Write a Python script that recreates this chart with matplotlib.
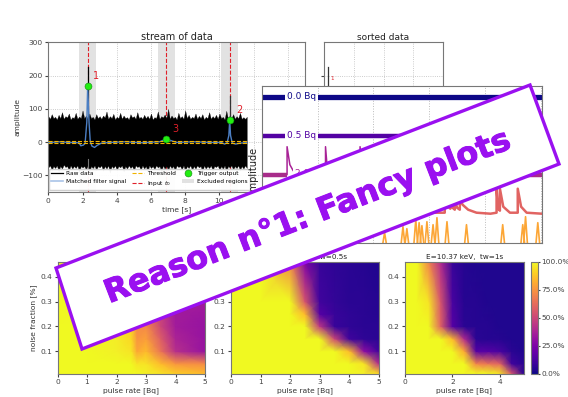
import numpy as np
import matplotlib
matplotlib.use('Agg')
import matplotlib.pyplot as plt
import matplotlib.patheffects as pe
from matplotlib.patches import Polygon

W, H = 568, 397

# stream of data
env_t = np.arange(0, 11.65, 0.1)
env_top = [78, 70, 84, 72, 76, 68, 82, 72, 90, 70, 78, 74, 86, 68, 75, 72, 88, 70, 77, 72,
           95, 72, 80, 70, 86, 72, 76, 68, 84, 72, 78, 70, 80, 74, 92, 70, 78, 72, 85, 68,
           76, 72, 88, 70, 80, 72, 75, 68, 84, 74, 78, 70, 90, 72, 76, 70, 82, 72, 79, 70,
           86, 68, 75, 72, 92, 70, 78, 74, 83, 72, 100, 70, 80, 72, 76, 68, 88, 72, 78, 70,
           95, 72, 82, 70, 76, 72, 86, 70, 79, 72, 84, 68, 76, 72, 90, 70, 78, 72, 82, 70,
           86, 72, 76, 68, 94, 70, 80, 72, 84, 70, 78, 72, 88, 70, 75, 70, 76]
env_bot = [-76, -70, -84, -72, -78, -70, -88, -72, -80, -68, -75, -72, -86, -70, -80, -72, -78, -70, -90, -72,
           -76, -72, -82, -70, -88, -72, -78, -70, -84, -72, -76, -70, -86, -72, -80, -70, -92, -72, -78, -70,
           -84, -72, -76, -70, -88, -72, -80, -70, -78, -72, -86, -70, -75, -72, -84, -70, -80, -72, -90, -70,
           -78, -72, -82, -70, -76, -72, -88, -70, -80, -72, -84, -70, -78, -72, -86, -70, -75, -72, -82, -70,
           -88, -72, -78, -70, -84, -72, -80, -70, -76, -72, -90, -70, -80, -72, -78, -70, -86, -72, -75, -70,
           -84, -72, -80, -70, -88, -72, -76, -70, -82, -72, -78, -70, -85, -72, -80, -70, -78]
raw_spike_t = [2.3, 2.3, 10.6, 10.6]
raw_spike_y = [60, 225, 60, 138]
filt_t = [0, 0.6, 1.2, 1.8, 1.9, 2.05, 2.15, 2.25, 2.3, 2.38, 2.45, 2.55, 2.7, 2.85, 3.1, 3.6, 4.5, 5.5, 6.5, 6.9, 7.5,
          8.5, 9.5, 10.1, 10.3, 10.45, 10.55, 10.6, 10.65, 10.75, 10.95, 11.2, 11.6]
filt_y = [-2, 1, -1, -2, -11, -9, -4, 60, 170, 60, 2, -12, -16, -10, -3, -1, 1, -2, 1, 9, -1,
          1, -1, -1, -6, -2, 20, 66, 20, -3, -6, -3, -2]
thresh = 4
input_t = [2.3, 6.9, 10.6]
trig_t = [2.3, 6.9, 10.6]
trig_y = [170, 10, 67]
trig_lab = ['1', '3', '2']
lab_t = [2.77, 7.4, 11.15]
lab_y = [200, 39, 96]
excl = [(1.8, 2.8), (6.4, 7.4), (10.1, 11.1)]

# sorted data
sorted_x = [0.6, 0.6]
sorted_y = [60, 225]

# traces, offset by rate
trace_names = ['0.0 Bq', '0.5 Bq', '2.0 Bq']
trace_lab_x = [0.71, 0.71, 0.85]
trace_lab_y = [146, 107, 69]
navy_y = 146
indigo_y = 107
mag_x = [0, 0.45, 0.45, 0.5, 0.56, 0.65, 0.8, 1.14, 1.14, 1.18, 1.76, 1.76, 1.8, 2.5, 4.9, 4.9, 4.93, 5.02]
mag_y = [68, 68, 96, 78, 72, 69, 68, 68, 96, 68, 68, 96, 68, 68, 68, 76, 70, 68]
sal_x = [3.1, 3.28, 3.28, 3.34, 3.38, 3.38, 3.42, 3.46, 3.46, 3.5, 3.55, 3.55, 3.6, 3.7, 3.85, 4.1, 4.21, 4.21, 4.24,
         4.27, 4.27, 4.33, 4.45, 4.59, 4.59, 4.65, 4.75, 5.02]
sal_y = [30, 30, 47, 36, 34, 44, 35, 33, 44, 35, 33, 44, 38, 33, 30, 29, 30, 54, 34, 32, 54, 36, 30, 30, 54, 36, 30, 29]
orange_x = [2.2, 2.53, 2.6, 2.76, 2.82, 2.87, 2.96, 3.07, 3.14, 3.32, 3.67, 4.32, 4.68, 4.73, 4.95]
orange_h = [10, 16, 14, 23, 20, 17, 21, 18, 25, 21, 18, 18, 18, 26, 20]

# efficiency maps, rows from low to high noise fraction
noise_1 = [0.01, 0.05, 0.1, 0.15, 0.2, 0.3, 0.46]
rate_1 = [0, 1, 2, 2.5, 2.7, 3, 3.5, 4, 5]
eff_1 = [[100, 100, 100, 100, 100, 98, 95, 90, 85],
         [100, 100, 100, 100, 95, 95, 85, 75, 72],
         [100, 100, 98, 95, 80, 85, 65, 42, 32],
         [100, 100, 97, 92, 75, 78, 58, 38, 32],
         [100, 100, 95, 90, 72, 72, 50, 35, 32],
         [100, 98, 90, 80, 65, 62, 45, 35, 35],
         [100, 95, 85, 70, 60, 55, 45, 38, 38]]
noise_2 = [0.01, 0.05, 0.1, 0.15, 0.2, 0.25, 0.3, 0.46]
rate_2 = [0, 1, 2, 2.5, 3, 3.5, 4, 4.5, 5]
eff_2 = [[100, 100, 100, 100, 100, 100, 100, 98, 92],
         [100, 100, 100, 100, 100, 100, 100, 95, 40],
         [100, 100, 100, 100, 100, 100, 85, 30, 10],
         [100, 100, 100, 100, 100, 50, 10, 6, 5],
         [100, 100, 100, 100, 45, 8, 6, 5, 5],
         [100, 100, 100, 85, 15, 8, 6, 5, 4],
         [100, 100, 100, 55, 10, 7, 5, 5, 4],
         [100, 100, 70, 25, 8, 6, 5, 4, 3]]
noise_3 = [0.01, 0.05, 0.1, 0.15, 0.2, 0.3, 0.46]
rate_3 = [0, 0.5, 1, 1.5, 2, 2.5, 3, 3.5, 4, 4.5, 5]
eff_3 = [[100, 100, 100, 100, 100, 100, 100, 100, 95, 55, 5],
         [100, 100, 100, 100, 100, 100, 70, 65, 60, 10, 5],
         [100, 100, 100, 100, 100, 80, 15, 15, 12, 5, 3],
         [100, 100, 100, 100, 85, 40, 5, 4, 4, 3, 3],
         [100, 100, 100, 60, 15, 5, 4, 4, 3, 3, 3],
         [100, 100, 95, 55, 12, 4, 4, 3, 3, 3, 3],
         [100, 100, 70, 40, 8, 4, 3, 3, 3, 3, 3]]
cbar_ticks = [0, 25, 50, 75, 100]

plt.rcParams['font.size'] = 5.4
plt.rcParams['axes.edgecolor'] = '#777777'
plt.rcParams['xtick.color'] = '#444444'
plt.rcParams['ytick.color'] = '#444444'
plt.rcParams['axes.labelcolor'] = '#333333'
plt.rcParams['axes.titlecolor'] = '#222222'
plt.rcParams['xtick.major.size'] = 2
plt.rcParams['ytick.major.size'] = 2
plt.rcParams['xtick.major.pad'] = 2
plt.rcParams['ytick.major.pad'] = 2

fig = plt.figure(figsize=(W / 100, H / 100), dpi=100)


# axes from pixel edges, y counted from the top of the image
def px_axes(left, top, right, bottom, z=1):
    return fig.add_axes([left / W, 1 - bottom / H, (right - left) / W, (bottom - top) / H], zorder=z)


def dotted_grid(ax):
    ax.grid(True, ls=':', lw=0.6, color='#bbbbbb')
    ax.set_axisbelow(True)


# top left panel
ax = px_axes(48.3, 42.3, 305, 192)
for i, (a, b) in enumerate(excl):
    ax.axvspan(a, b, color='#e2e2e2', lw=0, label='Excluded regions' if i == 0 else None, zorder=1)
ax.fill_between(env_t, env_bot, env_top, color='black', lw=0.2, zorder=2)
ax.plot(raw_spike_t[:2], raw_spike_y[:2], color='black', lw=0.9, label='Raw data', zorder=2)
ax.plot(raw_spike_t[2:], raw_spike_y[2:], color='#333333', lw=0.9, zorder=2)
ax.plot([2.3, 2.3], [-50, -85], color='#777777', lw=0.8, zorder=3)
ax.plot(filt_t, filt_y, color='#4c7fc4', lw=1.0, zorder=4)
ax.plot([], [], color='#a9c4e8', lw=1.2, label='Matched filter signal')
ax.plot([0, 11.6], [thresh, thresh], color='#f0b400', ls='--', lw=0.8, label='Threshold', zorder=5)
ax.plot([0, 11.6], [-thresh, -thresh], color='#f0b400', ls='--', lw=0.8, zorder=5)
ax.vlines(input_t, -150, 300, color='#e0202a', ls='--', lw=0.8, zorder=1.5)
ax.plot([], [], color='#e0202a', ls='--', lw=0.8, label='Input $t_0$')
ax.plot(trig_t, trig_y, 'o', color='#22ee11', mec='#118811', mew=0.4, ms=5, label='Trigger output', zorder=6)
for t, y, s in zip(lab_t, lab_y, trig_lab):
    ax.text(t, y, s, color='#e0202a', fontsize=7, ha='center', va='center', zorder=7)
ax.set_xlim(0, 15)
ax.set_ylim(-150, 300)
ax.set_xticks(range(0, 16, 2))
ax.set_yticks([-100, 0, 100, 200, 300])
dotted_grid(ax)
ax.set_title('stream of data', fontsize=7, pad=2)
ax.set_xlabel('time [s]', fontsize=5.4, labelpad=2)
ax.set_ylabel('amplitude', fontsize=5.4, labelpad=1)
hd, lb = ax.get_legend_handles_labels()
order = [lb.index(n) for n in ['Raw data', 'Matched filter signal', 'Threshold', 'Input $t_0$',
                               'Trigger output', 'Excluded regions']]
ax.legend([hd[i] for i in order], [lb[i] for i in order], ncol=3, fontsize=4.2, loc='lower left',
          bbox_to_anchor=(0.0, 0.01), borderaxespad=0.1, framealpha=0.95, columnspacing=1.0,
          handlelength=2.0, labelspacing=0.45, borderpad=0.35, handletextpad=0.6)

# sorted panel, mostly hidden by the overlay
ax = px_axes(324, 42.3, 443, 192)
ax.plot(sorted_x, sorted_y, color='#333333', lw=0.9)
ax.text(1.05, 190, '1', color='#e0202a', fontsize=4, ha='center', va='center')
ax.set_xlim(0, 16)
ax.set_ylim(-150, 300)
ax.set_xticks(range(4, 16, 4))
ax.set_yticks([200])
ax.set_yticklabels([])
dotted_grid(ax)
ax.set_title('sorted data', fontsize=6.5, pad=2)

# overlay of traces
ax = px_axes(262, 85.7, 541.7, 242.7, z=3)
ax.plot([0, 5.02], [navy_y, navy_y], color='#0d0887', lw=3.8, solid_capstyle='butt')
ax.plot([0, 5.02], [indigo_y, indigo_y], color='#5302a3', lw=3.2, solid_capstyle='butt')
ax.plot(mag_x, mag_y, color='#a82296', lw=1.1)
ax.plot([0, 0.45], [68, 68], color='#a82c8a', lw=3.2, solid_capstyle='butt')
ax.plot([4.4, 5.02], [68, 68], color='#a82c8a', lw=3.2, solid_capstyle='butt')
ax.plot(sal_x, sal_y, color='#e16462', lw=1.8)
for x, h in zip(orange_x, orange_h):
    ax.plot([x - 0.035, x, x + 0.035], [-2, h, -2], color='#fca636', lw=1.2)
for x, y, name, col in zip(trace_lab_x, trace_lab_y, trace_names, ['#0d0887', '#5302a3', '#a82296']):
    ax.text(x, y, name, color=col, fontsize=6.5, ha='center', va='center',
            bbox=dict(fc='white', ec='none', pad=1.5), zorder=5)
ax.set_xlim(0, 5.02)
ax.set_ylim(0, 157)
ax.set_xticks(range(1, 6))
ax.set_yticks([])
ax.set_xticklabels([])
ax.tick_params(length=0)
ax.grid(True, axis='x', ls=':', lw=0.7, color='#bbbbbb')
ax.set_axisbelow(True)
# reads bottom to top, the capital A ends up under the banner
fig.text(254 / W, 1 - 147 / H, 'Amplitude', rotation=90, fontsize=7, color='#222222',
         ha='center', va='top', zorder=4)

# efficiency maps
heat_left = [57.5, 231, 405]
heat_right = [205, 379, 523.7]
heat_rate = [rate_1, rate_2, rate_3]
heat_noise = [noise_1, noise_2, noise_3]
heat_eff = [eff_1, eff_2, eff_3]
heat_title = ['E=10.37 keV,  tw=0.1s', 'E=10.37 keV,  tw=0.5s', 'E=10.37 keV,  tw=1s']
for i in range(3):
    ax = px_axes(heat_left[i], 262, heat_right[i], 373.6)
    mesh = ax.pcolormesh(heat_rate[i], heat_noise[i], np.array(heat_eff[i]), cmap='plasma', vmin=0, vmax=100,
                         shading='gouraud', rasterized=True)
    ax.set_xlim(0, 5)
    ax.set_ylim(0.01, 0.46)
    ax.set_yticks([0.1, 0.2, 0.3, 0.4])
    ax.set_xticks(range(0, 6) if i < 2 else [0, 2, 4])
    ax.set_xlabel('pulse rate [Bq]', fontsize=5.4, labelpad=1.5)
    ax.set_title(heat_title[i], fontsize=5.2, pad=2)
    if i == 0:
        ax.set_ylabel('noise fraction [%]', fontsize=5.4, labelpad=2)

cax = px_axes(531, 262, 537.7, 373.6)
cb = fig.colorbar(mesh, cax=cax)
cb.set_ticks(cbar_ticks)
cb.set_ticklabels([f'{t:.1f}%' for t in cbar_ticks])
cb.ax.tick_params(labelsize=5.3, pad=1, length=1.5)

# banner on top of everything, in image pixels
top = fig.add_axes([0, 0, 1, 1], zorder=10)
top.set_xlim(0, W)
top.set_ylim(H, 0)
top.axis('off')
top.patch.set_alpha(0)
top.add_patch(Polygon([(56, 268), (530, 85), (559, 164), (82, 349)], closed=True, fc='white', ec='#9a10f0', lw=2.4))
top.text(308, 217, 'Reason n°1: Fancy plots', color='#9a10f0', fontsize=23, fontweight='bold',
         family='DejaVu Sans', rotation=21.1, rotation_mode='anchor', ha='center', va='center',
         path_effects=[pe.withStroke(linewidth=0.7, foreground='#9a10f0')])

fig.savefig('out.png', dpi=100)
